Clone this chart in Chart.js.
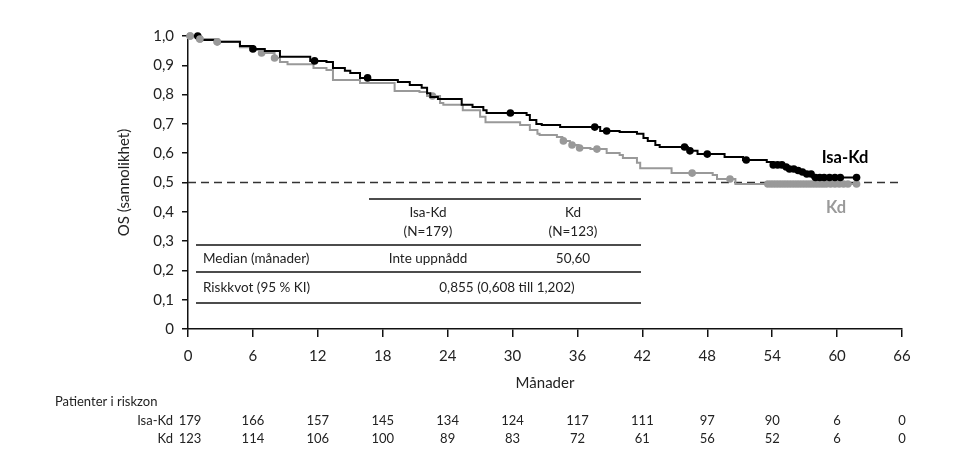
<!DOCTYPE html>
<html>
<head>
<meta charset="utf-8">
<script src="https://cdn.jsdelivr.net/npm/chart.js@4.4.1/dist/chart.umd.min.js"></script>
<style>
html, body { margin: 0; padding: 0; background: #fff; }
#wrap { width: 958px; height: 474px; position: relative; }
</style>
</head>
<body>
<div id="wrap"><canvas id="km"></canvas></div>
<script>
// Kaplan-Meier steps (months, survival after the step)
const isaTimes = [0, 1.1, 2.5, 4.8, 6.0, 7.1, 8.5, 11.3, 12.8, 13.4, 14.5, 15.0, 15.9, 16.8, 19.4, 20.5, 21.6, 22.1, 22.4, 23.1, 25.3, 26.3, 27.3, 27.6, 31.3, 31.6, 32.2, 32.7, 34.4, 38.1, 39.9, 41.5, 42.1, 42.5, 43.2, 43.6, 46.2, 47.1, 49.6, 51.3, 53.5, 54.1, 55.0, 55.6, 56.1, 56.6, 57.2, 57.7, 61.8];
const isaSurv = [1.0, 0.986, 0.980, 0.966, 0.956, 0.949, 0.929, 0.915, 0.911, 0.891, 0.881, 0.874, 0.857, 0.850, 0.843, 0.833, 0.823, 0.805, 0.792, 0.785, 0.765, 0.758, 0.747, 0.737, 0.730, 0.713, 0.700, 0.696, 0.689, 0.676, 0.672, 0.666, 0.652, 0.642, 0.628, 0.621, 0.608, 0.597, 0.587, 0.577, 0.570, 0.560, 0.553, 0.546, 0.541, 0.536, 0.529, 0.517, 0.517];
const kdTimes = [0, 1.1, 2.7, 4.8, 6.0, 6.8, 8.0, 8.5, 9.2, 11.6, 12.8, 13.4, 15.9, 19.1, 21.4, 22.1, 23.3, 23.6, 25.4, 27.0, 27.5, 30.7, 31.6, 32.3, 32.5, 34.1, 34.6, 35.3, 36.1, 37.2, 38.7, 39.9, 40.2, 41.5, 41.8, 44.7, 48.5, 48.9, 50.6, 61.8];
const kdSurv = [1.0, 0.990, 0.980, 0.962, 0.952, 0.942, 0.925, 0.911, 0.904, 0.891, 0.884, 0.850, 0.840, 0.812, 0.809, 0.795, 0.771, 0.765, 0.747, 0.724, 0.706, 0.696, 0.679, 0.666, 0.662, 0.655, 0.642, 0.628, 0.618, 0.614, 0.601, 0.594, 0.584, 0.567, 0.549, 0.532, 0.526, 0.512, 0.495, 0.495];

// censored observations (months)
const isaCensor = [0.9, 6.0, 11.7, 16.6, 29.8, 37.6, 38.7, 45.9, 46.4, 48.0, 51.6, 54.1, 54.5, 54.9, 55.3, 55.6, 56.0, 56.4, 56.8, 57.2, 57.6, 58.0, 58.4, 58.8, 59.3, 59.8, 60.3, 61.8];
const kdCensor = [0.2, 1.1, 2.7, 6.8, 8.0, 22.6, 34.7, 35.5, 36.2, 37.8, 46.6, 50.1, 53.6, 53.9, 54.2, 54.5, 54.8, 55.1, 55.4, 55.7, 56.0, 56.3, 56.6, 56.9, 57.2, 57.5, 57.8, 58.1, 58.4, 58.7, 59.0, 59.4, 59.8, 60.2, 60.6, 61.0, 61.8];

const xTicks = [0, 6, 12, 18, 24, 30, 36, 42, 48, 54, 60, 66];
const riskIsa = [179, 166, 157, 145, 134, 124, 117, 111, 97, 90, 6, 0];
const riskKd = [123, 114, 106, 100, 89, 83, 72, 61, 56, 52, 6, 0];
const medianLine = [0.5, 0.5];

const FONT = "Lato, 'Open Sans', sans-serif";

const survAt = (times, surv, t) => {
	let s = surv[0];
	times.forEach((tt, i) => { if (tt <= t) s = surv[i]; });
	return s;
};
const stepPts = (times, surv) => times.map((t, i) => ({ x: t, y: surv[i] }));
const censorPts = (cens, times, surv) => cens.map((t) => ({ x: t, y: survAt(times, surv, t) }));

// table inside the plot + risk table under it
const extras = {
	id: "extras",
	afterDraw(chart) {
		const c = chart.ctx;
		const xs = chart.scales.x;
		c.save();
		c.fillStyle = "#222";
		c.strokeStyle = "#111";
		c.lineWidth = 1.6;
		const hline = (x1, x2, y) => {
			c.beginPath();
			c.moveTo(x1, y);
			c.lineTo(x2, y);
			c.stroke();
		};
		hline(369, 641, 199);
		hline(196, 641, 245);
		hline(196, 641, 272);
		hline(196, 641, 303);

		c.font = "13.5px " + FONT;
		c.textBaseline = "middle";
		c.textAlign = "center";
		c.fillText("Isa-Kd", 428, 213);
		c.fillText("(N=179)", 428, 232);
		c.fillText("Kd", 573, 213);
		c.fillText("(N=123)", 573, 232);
		c.fillText("Inte uppnådd", 428, 259);
		c.fillText("50,60", 573, 259);
		c.fillText("0,855 (0,608 till 1,202)", 507, 288);
		c.textAlign = "left";
		c.fillText("Median (månader)", 203, 259);
		c.fillText("Riskkvot (95 % KI)", 203, 288);

		// curve labels
		c.font = "bold 16.5px " + FONT;
		c.textAlign = "center";
		c.fillStyle = "#000";
		c.fillText("Isa-Kd", 845, 158);
		c.fillStyle = "#9a9a9a";
		c.fillText("Kd", 836, 208);

		// numbers at risk
		c.fillStyle = "#222";
		c.font = "13px " + FONT;
		c.textAlign = "left";
		c.fillText("Patienter i riskzon", 55, 402);
		c.textAlign = "right";
		c.fillText("Isa-Kd", 173, 421);
		c.fillText("Kd", 173, 439);
		c.textAlign = "center";
		xTicks.forEach((t, i) => {
			const px = xs.getPixelForValue(t);
			c.fillText(String(riskIsa[i]), px + (i === 0 ? 2 : 0), 421);
			c.fillText(String(riskKd[i]), px + (i === 0 ? 2 : 0), 439);
		});
		c.restore();
	},
};

const ctx = document.getElementById("km");
const myChart = new Chart(ctx, {
	type: "line",
	data: {
		datasets: [
			{
				data: censorPts(kdCensor, kdTimes, kdSurv).slice(0, 3),
				showLine: false,
				pointRadius: 3.8,
				pointBackgroundColor: "#999",
				pointBorderWidth: 0,
				clip: false,
				order: 0,
			},
			{
				data: censorPts(isaCensor, isaTimes, isaSurv),
				showLine: false,
				pointRadius: 3.8,
				pointBackgroundColor: "#000",
				pointBorderWidth: 0,
				clip: false,
				order: 1,
			},
			{
				data: stepPts(isaTimes, isaSurv),
				stepped: true,
				borderColor: "#000",
				borderWidth: 2,
				pointRadius: 0,
				clip: false,
				order: 2,
			},
			{
				data: censorPts(kdCensor, kdTimes, kdSurv),
				showLine: false,
				pointRadius: 3.8,
				pointBackgroundColor: "#999",
				pointBorderWidth: 0,
				clip: false,
				order: 3,
			},
			{
				data: stepPts(kdTimes, kdSurv),
				stepped: true,
				borderColor: "#999",
				borderWidth: 2,
				pointRadius: 0,
				clip: false,
				order: 4,
			},
			{
				data: [{ x: 0, y: medianLine[0] }, { x: 66, y: medianLine[1] }],
				borderColor: "#333",
				borderWidth: 1.4,
				borderDash: [8, 5],
				pointRadius: 0,
				order: 5,
			},
		],
	},
	options: {
		responsive: true,
		maintainAspectRatio: false,
		animation: false,
		layout: { padding: { left: 110, right: 56, top: 36, bottom: 82 } },
		plugins: { legend: { display: false }, tooltip: { enabled: false } },
		scales: {
			x: {
				type: "linear",
				min: 0,
				max: 66,
				afterBuildTicks: (s) => { s.ticks = xTicks.map((v) => ({ value: v })); },
				afterFit: (s) => { s.height = 63; },
				ticks: { color: "#222", font: { family: FONT, size: 15 }, padding: 10 },
				grid: { drawOnChartArea: false, drawTicks: true, tickLength: 8, color: "#111", lineWidth: 1.5 },
				border: { display: true, color: "#111", width: 1.5 },
				title: { display: true, text: "Månader", color: "#222", font: { family: FONT, size: 15 }, padding: 0 },
			},
			y: {
				min: 0,
				max: 1,
				afterFit: (s) => { s.width = 78; },
				ticks: {
					stepSize: 0.1,
					color: "#222",
					font: { family: FONT, size: 15 },
					padding: 8,
					callback: (v) => {
						const r = Math.round(v * 10) / 10;
						return r === 0 ? "0" : r.toFixed(1).replace(".", ",");
					},
				},
				grid: { drawOnChartArea: false, drawTicks: true, tickLength: 6, color: "#111", lineWidth: 1.5 },
				border: { display: true, color: "#111", width: 1.5 },
				title: { display: true, text: "OS (sannolikhet)", color: "#222", font: { family: FONT, size: 15 }, padding: { top: 5, bottom: 0 } },
			},
		},
	},
	plugins: [extras],
});
</script>
</body>
</html>
